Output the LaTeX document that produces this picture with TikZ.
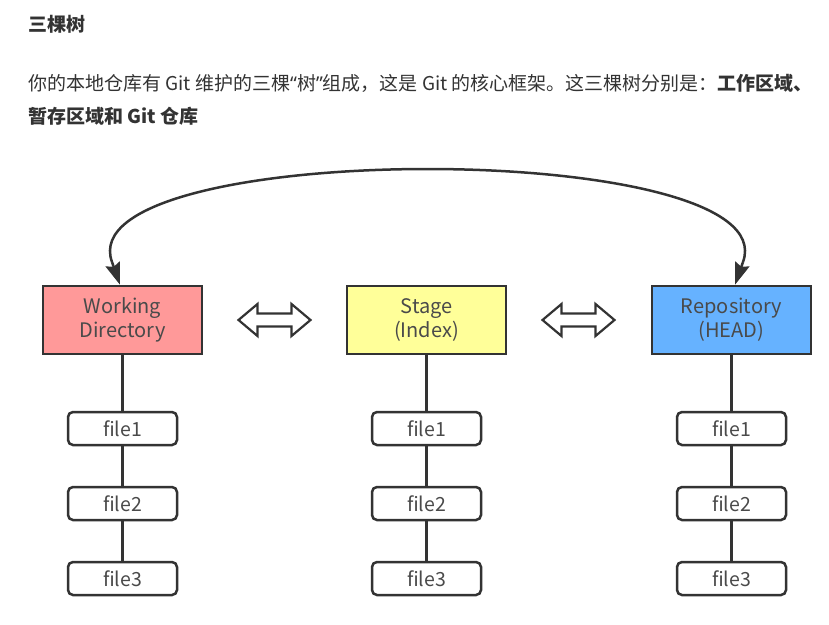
\documentclass[tikz,border=0pt]{standalone}
\usepackage{fontspec}
\setmainfont{Noto Sans CJK SC}
\newfontfamily\latinq{Noto Sans}
\usetikzlibrary{arrows.meta}
\definecolor{txt}{HTML}{333333}
\definecolor{boxtxt}{HTML}{4A4A4A}
\definecolor{edge}{HTML}{333333}
\definecolor{wdfill}{HTML}{FF9999}
\definecolor{stfill}{HTML}{FFFF99}
\definecolor{rpfill}{HTML}{66B2FF}
\begin{document}
\begin{tikzpicture}[x=1pt,y=1pt,
  bigbox/.style={draw=edge, line width=2.5pt, minimum width=159pt, minimum height=68pt,
    align=center, font=\fontsize{20}{24}\selectfont, text=boxtxt, inner sep=0pt},
  filebox/.style={draw=edge, line width=2.5pt, rounded corners=5pt, minimum width=109pt,
    minimum height=33pt, fill=white, font=\fontsize{19.5}{23}\selectfont, text=boxtxt, inner sep=0pt},
  link/.style={draw=edge, line width=2.5pt},
  tipped/.style={draw=edge, line width=2.5pt, -{Stealth[length=22pt,width=15pt,inset=3pt]}},
  dbl/.style={draw=edge, line width=2.2pt, fill=white, line join=miter},
  para/.style={anchor=base west, text=txt, inner sep=0pt, font=\fontsize{19}{22}\selectfont},
]
\useasboundingbox[fill=white] (0,0) rectangle (829,-624);

\node[para, font=\bfseries\fontsize{19}{22}\selectfont] (title) at (28,-31) {三棵树};
\node[para] (p1) at (28,-90) {你的本地仓库有 Git 维护的三棵{\latinq“}树{\latinq”}组成，这是 Git 的核心框架。这三棵树分别是：\textbf{工作区域、}};
\node[para] (p2) at (28,-123) {\textbf{暂存区域和 Git 仓库}};

\node[bigbox, fill=wdfill] (wd) at (122.5,-320) {Working\\Directory};
\node[bigbox, fill=stfill] (st) at (426.5,-320) {Stage\\(Index)};
\node[bigbox, fill=rpfill] (rp) at (731.5,-320) {Repository\\(HEAD)};

\foreach \c/\x in {wd/122.5, st/426.5, rp/731.5} {
  \node[filebox] (\c-f1) at (\x,-428.5) {file1};
  \node[filebox] (\c-f2) at (\x,-503.5) {file2};
  \node[filebox] (\c-f3) at (\x,-578.5) {file3};
  \draw[link] (\c) -- (\c-f1);
  \draw[link] (\c-f1) -- (\c-f2);
  \draw[link] (\c-f2) -- (\c-f3);
}

\coordinate (da1) at (274.5,-320);
\coordinate (da2) at (578.5,-320);
\foreach \d in {da1,da2} {
  \draw[dbl, shift={(\d)}] (-36,0) -- (-17,16) -- (-17,6.5) -- (17,6.5) -- (17,16) -- (36,0)
    -- (17,-16) -- (17,-6.5) -- (-17,-6.5) -- (-17,-16) -- cycle;
}

\coordinate (cl) at (112,-262);
\coordinate (cr) at (743,-262);
\draw[link] (cl) .. controls (67,-138) and (788,-138) .. (cr);
\draw[tipped] (cl) -- ([xshift=-2.5pt]wd.north);
\draw[tipped] (cr) -- ([xshift=3.5pt]rp.north);
\end{tikzpicture}
\end{document}
